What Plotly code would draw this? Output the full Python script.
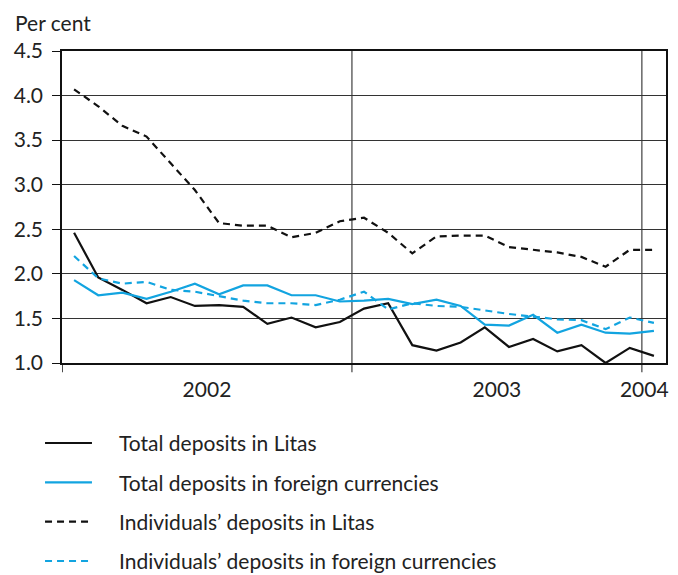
import plotly.graph_objects as go

months = ["2002-01", "2002-02", "2002-03", "2002-04", "2002-05", "2002-06",
          "2002-07", "2002-08", "2002-09", "2002-10", "2002-11", "2002-12",
          "2003-01", "2003-02", "2003-03", "2003-04", "2003-05", "2003-06",
          "2003-07", "2003-08", "2003-09", "2003-10", "2003-11", "2003-12",
          "2004-01"]

total_litas = [2.46, 1.96, 1.82, 1.67, 1.74, 1.64, 1.65, 1.63, 1.44, 1.51, 1.40, 1.46,
               1.61, 1.67, 1.20, 1.14, 1.23, 1.40, 1.18, 1.27, 1.13, 1.20, 1.00, 1.17,
               1.08]
total_fx = [1.93, 1.76, 1.79, 1.72, 1.80, 1.89, 1.77, 1.87, 1.87, 1.76, 1.76, 1.69,
            1.70, 1.72, 1.66, 1.71, 1.64, 1.43, 1.42, 1.54, 1.34, 1.43, 1.34, 1.33,
            1.36]
indiv_litas = [4.07, 3.88, 3.66, 3.54, 3.24, 2.94, 2.57, 2.54, 2.54, 2.41, 2.46, 2.59,
               2.63, 2.46, 2.23, 2.42, 2.43, 2.43, 2.30, 2.27, 2.24, 2.19, 2.08, 2.27,
               2.27]
indiv_fx = [2.20, 1.95, 1.89, 1.91, 1.82, 1.80, 1.75, 1.70, 1.67, 1.67, 1.65, 1.71,
            1.80, 1.60, 1.67, 1.64, 1.63, 1.59, 1.55, 1.52, 1.49, 1.48, 1.38, 1.51,
            1.45]

series_names = ["Total deposits in Litas",
                "Total deposits in foreign currencies",
                "Individuals\u2019 deposits in Litas",
                "Individuals\u2019 deposits in foreign currencies"]

years = ["2002", "2003", "2004"]
y_ticks = [1.0, 1.5, 2.0, 2.5, 3.0, 3.5, 4.0, 4.5]

# month index positions (uniform monthly spacing, points at mid-month)
xpos = list(range(len(months)))
year_label_pos = []
year_bounds = []
for yr in years:
    idx = [i for i, m in enumerate(months) if m.startswith(yr)]
    mid = (idx[0] + idx[-1]) / 2
    if len(idx) < 12:          # partial year at the right edge: keep label inside
        mid = idx[0] - 0.4
    year_label_pos.append(mid)
    if idx[0] > 0:
        year_bounds.append(idx[0] - 0.5)

BLACK = "#111111"
BLUE = "#12A4E0"
TEXT = "#222222"
FONT = "Lato"
FS = 21
DASH = "7px,5px"

styles = [(BLACK, "solid"), (BLUE, "solid"), (BLACK, DASH), (BLUE, DASH)]
values = [total_litas, total_fx, indiv_litas, indiv_fx]

fig = go.Figure()
for name, vals, (col, dash) in zip(series_names, values, styles):
    fig.add_trace(go.Scatter(
        x=xpos, y=vals, name=name, mode="lines",
        line=dict(color=col, width=2.2, dash=dash),
        showlegend=False,
    ))

shapes = []
for xb in year_bounds:
    shapes.append(dict(type="line", xref="x", yref="paper", x0=xb, x1=xb,
                       y0=-0.03, y1=1, line=dict(color="#666666", width=1.5),
                       layer="below"))
shapes.append(dict(type="line", xref="x", yref="paper", x0=-0.5, x1=-0.5,
                   y0=-0.03, y1=0, line=dict(color=BLACK, width=1.5)))

# legend placed below the plot (paper coordinates)
annotations = [dict(
    text="Per cent", xref="paper", yref="paper",
    x=-0.081, y=1.09, xanchor="left", yanchor="middle",
    showarrow=False, font=dict(family=FONT, size=FS, color=TEXT),
)]
leg_rows = [-0.2564, -0.3824, -0.5087, -0.6346]
for name, (col, dash), yy in zip(series_names, styles, leg_rows):
    shapes.append(dict(type="line", xref="paper", yref="paper",
                       x0=-0.0281, x1=0.0496, y0=yy, y1=yy,
                       line=dict(color=col, width=2.2, dash=dash)))
    annotations.append(dict(
        text=name, xref="paper", yref="paper", x=0.0911, y=yy,
        xanchor="left", yanchor="middle", showarrow=False,
        font=dict(family=FONT, size=FS, color=TEXT),
    ))

# the page body adds an 8px margin, so the figure is 8px smaller
fig.update_layout(
    width=670, height=567,
    margin=dict(l=54, r=12, t=43, b=212, autoexpand=False),
    paper_bgcolor="white", plot_bgcolor="white",
    font=dict(family=FONT, size=FS, color=TEXT),
    showlegend=False,
    xaxis=dict(
        range=[-0.5, len(months) - 0.5],
        tickmode="array", tickvals=year_label_pos, ticktext=years,
        ticks="", showgrid=False, zeroline=False,
        showline=True, linecolor=BLACK, linewidth=1.5, mirror=True,
        ticklabelstandoff=7, automargin=False, ticklabeloverflow="allow",
        tickfont=dict(family=FONT, size=FS, color=TEXT),
    ),
    yaxis=dict(
        range=[1.0, 4.5],
        tickmode="array", tickvals=y_ticks,
        ticktext=[f"{v:.1f}" for v in y_ticks],
        ticks="outside", ticklen=8, tickcolor=BLACK, tickwidth=1,
        showgrid=True, gridcolor="#333333", gridwidth=1,
        zeroline=False,
        showline=True, linecolor=BLACK, linewidth=1.5, mirror=True,
        ticklabelstandoff=5, automargin=False, ticklabeloverflow="allow",
        tickfont=dict(family=FONT, size=FS, color=TEXT),
    ),
    shapes=shapes,
    annotations=annotations,
)

fig.write_html("out.html")
